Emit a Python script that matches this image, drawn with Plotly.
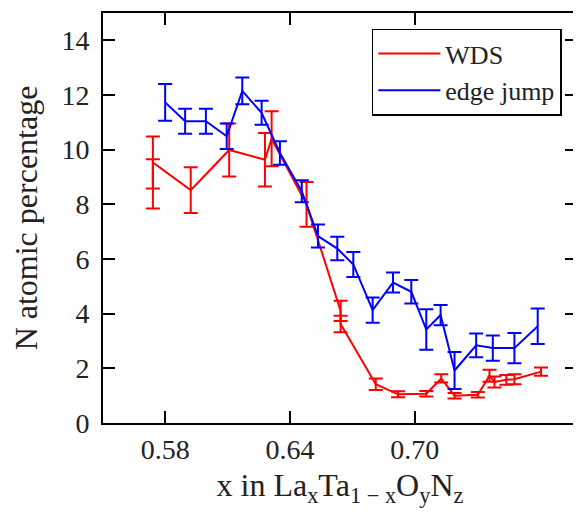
import plotly.graph_objects as go

# Edge jump (blue)
edge_x = [0.5799, 0.5895, 0.5995, 0.6095, 0.6170, 0.6263, 0.6351, 0.6456, 0.6534, 0.6627,
          0.6704, 0.6797, 0.6895, 0.6983, 0.7055, 0.7124, 0.7191, 0.7295, 0.7375, 0.7479, 0.7591]
edge_y = [11.73, 11.04, 11.04, 10.49, 12.15, 11.35, 9.88, 8.48, 6.84, 6.38,
          5.80, 4.13, 5.14, 4.80, 3.42, 3.95, 1.92, 2.84, 2.74, 2.74, 3.54]
edge_err = [0.67, 0.46, 0.46, 0.47, 0.49, 0.44, 0.43, 0.40, 0.42, 0.43,
            0.46, 0.46, 0.37, 0.43, 0.74, 0.37, 0.68, 0.43, 0.46, 0.55, 0.65]

# WDS (red)
wds_x = [0.5740, 0.5740, 0.5922, 0.6107, 0.6279, 0.6311, 0.6479, 0.6643, 0.6643, 0.6812,
         0.6919, 0.7055, 0.7127, 0.7191, 0.7303, 0.7359, 0.7383, 0.7440, 0.7479, 0.7607]
wds_y = [8.75, 9.53, 8.52, 9.99, 9.63, 10.40, 8.00, 4.10, 3.62, 1.42,
         1.05, 1.07, 1.63, 1.00, 1.03, 1.73, 1.50, 1.58, 1.60, 1.88]
wds_err = [0.90, 0.95, 0.84, 0.97, 0.98, 1.01, 0.82, 0.37, 0.30, 0.21,
           0.11, 0.10, 0.15, 0.10, 0.10, 0.22, 0.20, 0.18, 0.18, 0.15]

x_ticks = [0.58, 0.64, 0.70]
x_tick_labels = ["0.58", "0.64", "0.70"]
y_ticks = [0, 2, 4, 6, 8, 10, 12, 14]

FONT = "'Liberation Serif', 'Times New Roman', Times, 'DejaVu Serif', serif"

fig = go.Figure()
fig.add_trace(go.Scatter(
    x=wds_x, y=wds_y, mode="lines", name="WDS",
    line=dict(color="#ff0000", width=2),
    error_y=dict(type="data", array=wds_err, visible=True, color="#ff0000", thickness=2, width=7),
))
fig.add_trace(go.Scatter(
    x=edge_x, y=edge_y, mode="lines", name="edge jump",
    line=dict(color="#0000ff", width=2),
    error_y=dict(type="data", array=edge_err, visible=True, color="#0000ff", thickness=2, width=7),
))

axis_common = dict(
    showline=True, linecolor="black", linewidth=2, mirror="ticks",
    ticks="inside", ticklen=12, tickwidth=1.5, tickcolor="black",
    showgrid=False, zeroline=False, automargin=False,
    tickfont=dict(family=FONT, size=28, color="#222"),
)

# page body has an 8px default margin, so the figure is shrunk by that amount
fig.update_layout(
    width=573, height=504,
    margin=dict(l=95, r=4, t=5, b=89),
    paper_bgcolor="white", plot_bgcolor="white",
    font=dict(family=FONT, color="#222"),
    xaxis=dict(
        range=[0.55, 0.778], tickvals=x_ticks, ticktext=x_tick_labels,
        title=dict(text="x in La<sub>x</sub>Ta<sub>1 − x</sub>O<sub>y</sub>N<sub>z</sub>",
                   font=dict(family=FONT, size=32, color="#222"), standoff=10),
        ticklabelstandoff=0,
        **axis_common,
    ),
    yaxis=dict(
        range=[0, 15], tickvals=y_ticks,
        title=dict(text="N atomic percentage", font=dict(family=FONT, size=32, color="#222"), standoff=18),
        ticklabelstandoff=6,
        **axis_common,
    ),
    legend=dict(
        x=0.968, y=0.962, xanchor="right", yanchor="top",
        bordercolor="black", borderwidth=1.5, bgcolor="white",
        font=dict(family=FONT, size=26, color="#222"),
        itemwidth=62, tracegroupgap=0,
    ),
    showlegend=True,
)

fig.write_html("out.html")
